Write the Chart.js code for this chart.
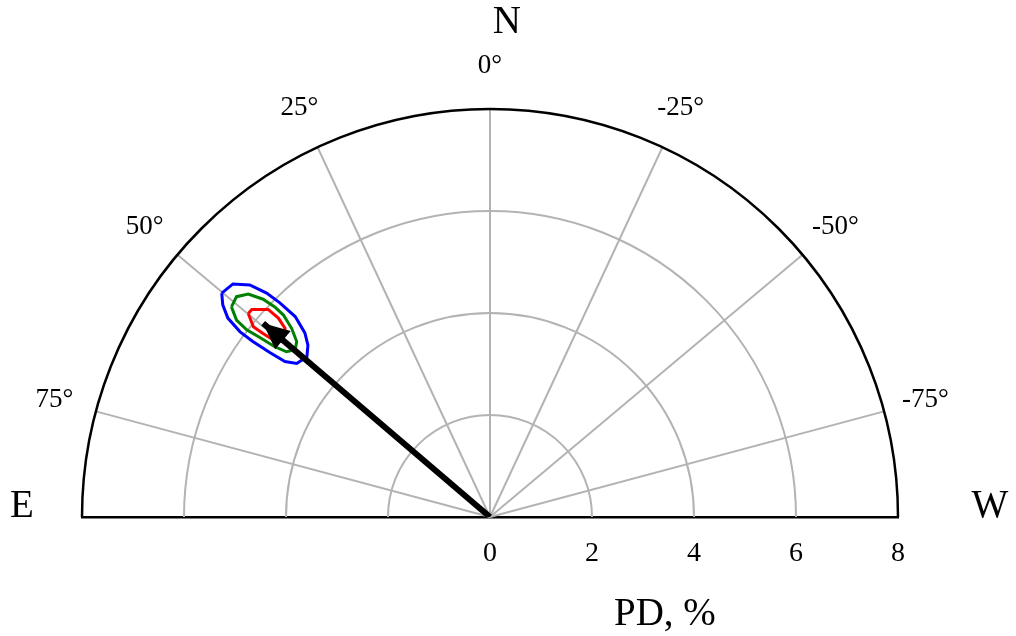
<!DOCTYPE html>
<html>
<head>
<meta charset="utf-8">
<script src="https://cdn.jsdelivr.net/npm/chart.js@4/dist/chart.umd.min.js"></script>
<style>
  html, body { margin: 0; padding: 0; background: #fff; }
  canvas { display: block; }
</style>
</head>
<body>
<canvas id="polar" width="1016" height="636"></canvas>
<script>
// polar grid
const ringRadii = [2, 4, 6];
const outerRadius = 8;
const spokeAngles = [75, 50, 25, 0, -25, -50, -75];   // degrees, from N towards E
const tickValues = [0, 2, 4, 6, 8];

// mean polarization (arrow)
const pdMagnitude = 5.85;
const pdAngle = 49.5;

// confidence contours (x, y in % units)
const outerContourX = [-5.26, -5.04, -4.71, -4.38, -4.12, -3.82, -3.63, -3.57, -3.59, -3.79, -4.02, -4.31, -4.65, -4.90, -5.14, -5.24, -5.26];
const outerContourY = [4.39, 4.57, 4.55, 4.39, 4.20, 3.93, 3.61, 3.37, 3.14, 3.01, 3.05, 3.22, 3.44, 3.63, 3.90, 4.16, 4.39];
const midContourX = [-5.07, -4.97, -4.74, -4.45, -4.22, -4.05, -3.89, -3.79, -3.82, -3.99, -4.22, -4.48, -4.77, -4.97, -5.07];
const midContourY = [4.12, 4.32, 4.37, 4.27, 4.12, 3.96, 3.70, 3.44, 3.28, 3.24, 3.34, 3.50, 3.67, 3.86, 4.12];
const innerContourX = [-4.74, -4.67, -4.35, -4.15, -4.02, -4.02, -4.12, -4.25, -4.45, -4.64, -4.74];
const innerContourY = [3.99, 4.07, 4.07, 3.90, 3.70, 3.57, 3.45, 3.47, 3.60, 3.73, 3.99];

const SERIF = "'Liberation Serif', 'DejaVu Serif', serif";
const GRID_GRAY = '#b3b3b3';

function toXY(r, deg) {
    const a = deg * Math.PI / 180;
    return { x: -r * Math.sin(a), y: r * Math.cos(a) };
}

function zipPoints(xs, ys) {
    return xs.map((x, i) => ({ x: x, y: ys[i] }));
}

const arrowEnd = toXY(pdMagnitude, pdAngle);

const polarGrid = {
    id: 'polarGrid',
    beforeDatasetsDraw(chart) {
        const ctx = chart.ctx;
        const xs = chart.scales.x, ys = chart.scales.y;
        const cx = xs.getPixelForValue(0), cy = ys.getPixelForValue(0);
        const unit = xs.getPixelForValue(1) - cx;
        ctx.save();
        ctx.strokeStyle = GRID_GRAY;
        ctx.lineWidth = 2;
        ringRadii.forEach(r => {
            ctx.beginPath();
            ctx.arc(cx, cy, r * unit, Math.PI, 2 * Math.PI);
            ctx.stroke();
        });
        spokeAngles.forEach(a => {
            const p = toXY(outerRadius, a);
            ctx.beginPath();
            ctx.moveTo(cx, cy);
            ctx.lineTo(xs.getPixelForValue(p.x), ys.getPixelForValue(p.y));
            ctx.stroke();
        });
        ctx.strokeStyle = '#000';
        ctx.lineWidth = 2.5;
        ctx.beginPath();
        ctx.arc(cx, cy, outerRadius * unit, Math.PI, 2 * Math.PI);
        ctx.stroke();
        ctx.restore();
    },
    afterDatasetsDraw(chart) {
        const ctx = chart.ctx;
        const xs = chart.scales.x, ys = chart.scales.y;
        const cx = xs.getPixelForValue(0), cy = ys.getPixelForValue(0);

        // arrow head
        const tx = xs.getPixelForValue(arrowEnd.x), ty = ys.getPixelForValue(arrowEnd.y);
        const ang = Math.atan2(ty - cy, tx - cx);
        const len = 26, half = 12;
        const bx = tx - len * Math.cos(ang), by = ty - len * Math.sin(ang);
        ctx.save();
        ctx.fillStyle = '#000';
        ctx.beginPath();
        ctx.moveTo(tx, ty);
        ctx.lineTo(bx + half * Math.sin(ang), by - half * Math.cos(ang));
        ctx.lineTo(bx - half * Math.sin(ang), by + half * Math.cos(ang));
        ctx.closePath();
        ctx.fill();

        // angle labels
        ctx.textAlign = 'center';
        ctx.textBaseline = 'middle';
        ctx.font = '27px ' + SERIF;
        spokeAngles.forEach(a => {
            const p = toXY(8.84, a);
            ctx.fillText(a + '°', xs.getPixelForValue(p.x), ys.getPixelForValue(p.y));
        });

        // compass letters
        ctx.font = '39px ' + SERIF;
        ctx.textBaseline = 'alphabetic';
        ctx.fillText('N', xs.getPixelForValue(0.33), ys.getPixelForValue(9.49));
        ctx.fillText('E', xs.getPixelForValue(-9.18), cy);
        ctx.fillText('W', xs.getPixelForValue(9.8), cy);

        // radial axis title
        ctx.fillText('PD, %', xs.getPixelForValue(3.43), cy + 108);
        ctx.restore();
    }
};

new Chart(document.getElementById('polar'), {
    type: 'scatter',
    data: {
        datasets: [
            {
                label: 'PD',
                data: [{ x: 0, y: 0 }, arrowEnd],
                showLine: true,
                borderColor: '#000',
                borderWidth: 6,
                pointRadius: 0
            },
            {
                label: 'inner',
                data: zipPoints(innerContourX, innerContourY),
                showLine: true,
                borderColor: '#ff0000',
                borderWidth: 3,
                pointRadius: 0
            },
            {
                label: 'mid',
                data: zipPoints(midContourX, midContourY),
                showLine: true,
                borderColor: '#008000',
                borderWidth: 3,
                pointRadius: 0
            },
            {
                label: 'outer',
                data: zipPoints(outerContourX, outerContourY),
                showLine: true,
                borderColor: '#0000ff',
                borderWidth: 3,
                pointRadius: 0
            }
        ]
    },
    options: {
        responsive: false,
        animation: false,
        devicePixelRatio: 1,
        layout: { padding: { left: 82, right: 118, top: 109, bottom: 0 } },
        plugins: {
            legend: { display: false },
            tooltip: { enabled: false }
        },
        scales: {
            x: {
                type: 'linear',
                min: -outerRadius,
                max: outerRadius,
                afterBuildTicks: s => { s.ticks = tickValues.map(v => ({ value: v })); },
                afterFit: s => { s.height = 119; },
                grid: { display: false },
                border: { display: true, color: '#000', width: 2.5 },
                ticks: {
                    color: '#000',
                    padding: 12,
                    maxRotation: 0,
                    autoSkip: false,
                    font: { family: SERIF, size: 28 }
                }
            },
            y: {
                type: 'linear',
                min: 0,
                max: outerRadius,
                display: false
            }
        }
    },
    plugins: [polarGrid]
});
</script>
</body>
</html>
